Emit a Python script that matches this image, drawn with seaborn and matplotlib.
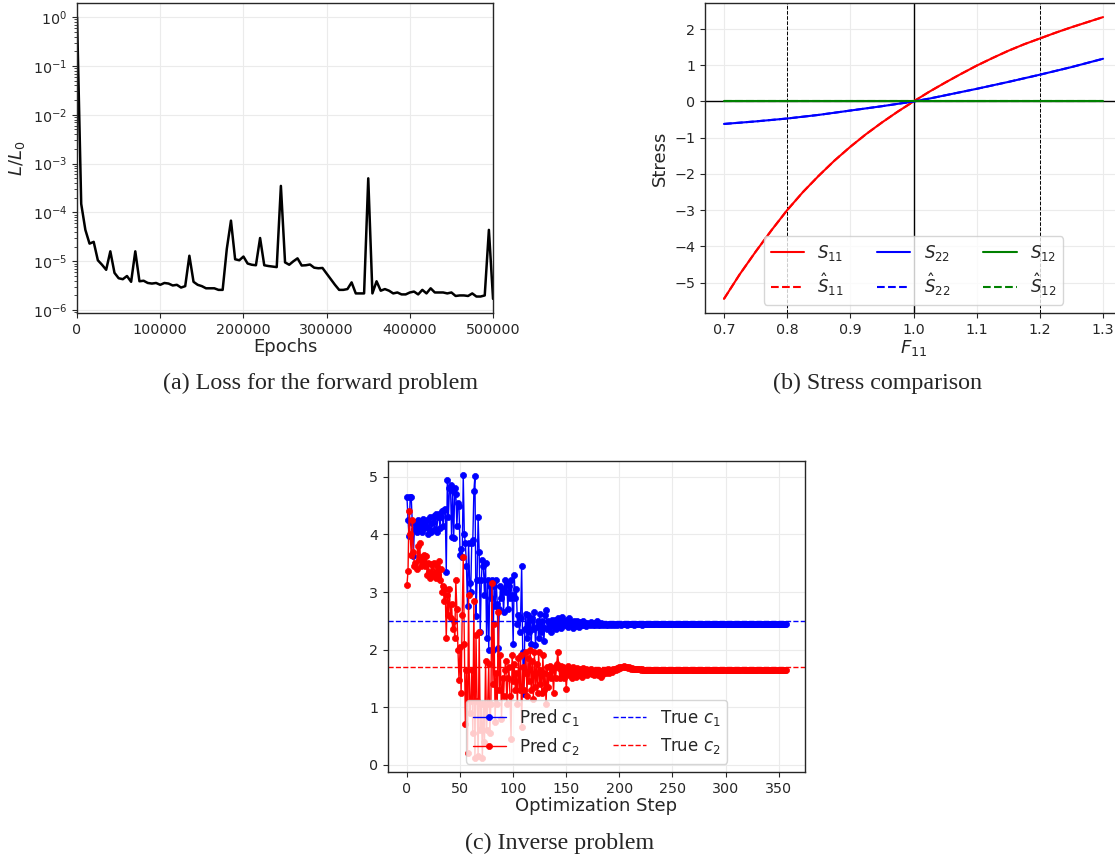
import numpy as np
import matplotlib
matplotlib.use("Agg")
import matplotlib.pyplot as plt
import seaborn as sns

# ---------------- data: (a) loss ----------------
epochs = list(range(0, 500001, 5000))
loss = [1.0, 1.5e-4, 4.4e-5, 2.3e-5, 2.5e-5, 1.05e-5, 8.5e-6, 6.7e-6, 1.6e-5, 5.8e-6,
        4.5e-6, 4.3e-6, 5.0e-6, 3.8e-6, 1.6e-5, 3.9e-6, 4.0e-6, 3.6e-6, 3.5e-6, 3.6e-6,
        3.3e-6, 3.6e-6, 3.5e-6, 3.2e-6, 3.3e-6, 2.9e-6, 3.1e-6, 1.3e-5, 3.8e-6, 3.3e-6,
        3.1e-6, 2.8e-6, 2.8e-6, 2.8e-6, 2.6e-6, 2.6e-6, 1.8e-5, 6.8e-5, 1.1e-5, 1.05e-5,
        1.25e-5, 9.0e-6, 8.5e-6, 8.3e-6, 3.0e-5, 8.3e-6, 8.0e-6, 7.8e-6, 7.6e-6, 3.5e-4,
        9.5e-6, 8.5e-6, 1.0e-5, 1.15e-5, 8.2e-6, 8.3e-6, 8.6e-6, 7.4e-6, 7.2e-6, 7.3e-6,
        5.6e-6, 4.3e-6, 3.3e-6, 2.6e-6, 2.6e-6, 2.7e-6, 3.7e-6, 2.2e-6, 2.2e-6, 2.2e-6,
        5.0e-4, 2.2e-6, 3.9e-6, 2.5e-6, 2.7e-6, 2.5e-6, 2.2e-6, 2.3e-6, 2.1e-6, 2.1e-6,
        2.3e-6, 2.4e-6, 2.1e-6, 2.6e-6, 2.2e-6, 2.8e-6, 2.3e-6, 2.3e-6, 2.3e-6, 2.2e-6,
        2.3e-6, 1.95e-6, 2.0e-6, 2.0e-6, 1.95e-6, 2.2e-6, 1.9e-6, 1.9e-6, 2.0e-6, 4.4e-5,
        1.7e-6]

# ---------------- data: (b) stress ----------------
F11 = [0.700, 0.725, 0.750, 0.775, 0.800, 0.825, 0.850, 0.875, 0.900, 0.925, 0.950, 0.975,
       1.000, 1.025, 1.050, 1.075, 1.100, 1.125, 1.150, 1.175, 1.200, 1.225, 1.250, 1.275, 1.300]
S11 = [-5.45, -4.77, -4.15, -3.56, -3.00, -2.50, -2.05, -1.63, -1.25, -0.90, -0.58, -0.28,
       0.00, 0.27, 0.52, 0.76, 0.99, 1.20, 1.40, 1.58, 1.74, 1.90, 2.05, 2.19, 2.33]
S22 = [-0.62, -0.585, -0.55, -0.51, -0.47, -0.42, -0.37, -0.31, -0.25, -0.19, -0.13, -0.065,
       0.00, 0.08, 0.17, 0.26, 0.35, 0.445, 0.54, 0.64, 0.74, 0.845, 0.95, 1.065, 1.18]
S12 = [0.00, 0.00, 0.00, 0.00, 0.00, 0.00, 0.00, 0.00, 0.00, 0.00, 0.00, 0.00,
       0.00, 0.00, 0.00, 0.00, 0.00, 0.00, 0.00, 0.00, 0.00, 0.00, 0.00, 0.00, 0.00]
S11_hat = list(S11)
S22_hat = list(S22)
S12_hat = list(S12)
F_ref_lines = [0.8, 1.2]

# ---------------- data: (c) inverse problem ----------------
c1_pred = [
    4.65, 4.25, 3.98, 4.65, 4.65, 4.20, 3.62, 4.10, 4.22, 4.05,
    4.25, 4.15, 4.10, 4.22, 4.05, 4.27, 4.12, 4.20, 4.15, 4.25,
    4.00, 4.10, 4.30, 4.05, 4.20, 4.32, 4.10, 4.35, 4.05, 4.30,
    4.36, 4.12, 4.30, 4.40, 4.15, 4.42, 4.45, 3.35, 4.94, 4.30,
    4.80, 4.85, 3.95, 4.75, 3.93, 4.80, 4.70, 4.15, 4.55, 4.50,
    3.65, 3.75, 3.60, 5.03, 4.00, 3.85, 3.45, 2.75, 3.85, 3.15,
    3.00, 3.85, 3.90, 4.75, 5.02, 2.58, 3.20, 4.30, 3.70, 2.30,
    3.20, 3.55, 3.45, 2.95, 3.50, 2.20, 3.20, 2.00, 3.10, 2.90,
    3.20, 2.00, 3.10, 2.75, 3.20, 2.80, 2.02, 2.70, 3.10, 2.90,
    3.05, 2.65, 3.20, 3.00, 3.15, 2.70, 3.10, 2.90, 3.20, 2.95,
    2.10, 3.29, 2.90, 3.05, 2.45, 2.60, 2.30, 2.55, 3.45, 1.95,
    1.22, 2.35, 2.62, 2.20, 2.60, 2.30, 2.52, 2.10, 2.55, 2.35,
    2.65, 2.08, 2.40, 2.50, 2.20, 2.62, 2.30, 2.50, 2.40, 2.15,
    2.60, 2.68, 2.35, 2.50, 2.40, 2.46, 2.30, 2.52, 2.40, 2.52,
    2.36, 2.46, 2.55, 2.40, 2.50, 2.38, 2.56, 2.42, 2.47, 2.50,
    2.42, 2.52, 2.40, 2.55, 2.43, 2.48, 2.38, 2.50, 2.45, 2.41,
    2.50, 2.44, 2.40, 2.48, 2.45, 2.42, 2.50, 2.43, 2.46, 2.41,
    2.47, 2.44, 2.42, 2.48, 2.44, 2.43, 2.47, 2.42, 2.46, 2.49,
    2.43, 2.45, 2.42, 2.46, 2.44, 2.42, 2.45, 2.43, 2.44, 2.42,
    2.45, 2.44, 2.43, 2.45, 2.44, 2.43, 2.45, 2.44, 2.43, 2.44,
    2.45, 2.44, 2.43, 2.44, 2.45, 2.44, 2.44, 2.43, 2.44, 2.45,
    2.44, 2.44, 2.45, 2.44, 2.43, 2.44, 2.44, 2.45, 2.44, 2.44,
    2.44, 2.43, 2.44, 2.44, 2.45, 2.44, 2.44, 2.44, 2.44, 2.44,
    2.44, 2.44, 2.44, 2.45, 2.44, 2.44, 2.44, 2.44, 2.44, 2.44,
    2.44, 2.44, 2.44, 2.44, 2.44, 2.44, 2.44, 2.44, 2.44, 2.44,
    2.44, 2.44, 2.44, 2.44, 2.44, 2.44, 2.44, 2.44, 2.44, 2.44,
    2.44, 2.44, 2.44, 2.44, 2.44, 2.44, 2.44, 2.44, 2.44, 2.44,
    2.44, 2.44, 2.44, 2.44, 2.44, 2.44, 2.44, 2.44, 2.44, 2.44,
    2.44, 2.44, 2.44, 2.44, 2.44, 2.44, 2.44, 2.44, 2.44, 2.44,
    2.44, 2.44, 2.44, 2.44, 2.44, 2.44, 2.44, 2.44, 2.44, 2.44,
    2.44, 2.44, 2.44, 2.44, 2.44, 2.44, 2.44, 2.44, 2.44, 2.44,
    2.44, 2.44, 2.44, 2.44, 2.44, 2.44, 2.44, 2.44, 2.44, 2.44,
    2.44, 2.44, 2.44, 2.44, 2.44, 2.44, 2.44, 2.44, 2.44, 2.44,
    2.44, 2.44, 2.44, 2.44, 2.44, 2.44, 2.44, 2.44, 2.44, 2.44,
    2.44, 2.44, 2.44, 2.44, 2.44, 2.44, 2.44, 2.44, 2.44, 2.44,
    2.44, 2.44, 2.44, 2.44, 2.44, 2.44, 2.44, 2.44]
c2_pred = [
    3.13, 3.37, 4.40, 4.00, 3.65, 4.25, 3.70, 3.45, 3.50, 3.40,
    3.80, 3.55, 3.85, 3.45, 3.60, 3.50, 3.65, 3.45, 3.62, 3.30,
    3.50, 3.35, 3.25, 3.48, 3.30, 3.50, 3.35, 3.25, 3.45, 3.30,
    3.53, 3.20, 3.40, 3.00, 3.10, 2.85, 3.05, 2.20, 2.95, 2.60,
    3.05, 2.55, 2.80, 2.35, 2.50, 2.20, 3.20, 2.70, 2.00, 1.47,
    2.05, 1.25, 2.60, 3.60, 2.10, 0.70, 1.65, 0.20, 2.95, 0.90,
    1.10, 1.65, 0.55, 2.85, 0.12, 2.25, 1.10, 0.15, 2.30, 0.60,
    1.05, 0.12, 1.05, 0.40, 1.80, 0.60, 1.05, 1.75, 0.55, 1.05,
    3.15, 1.40, 2.45, 0.75, 1.60, 1.05, 2.65, 1.30, 1.90, 0.80,
    1.50, 1.20, 1.65, 1.80, 1.05, 1.50, 1.70, 1.20, 0.45, 1.90,
    1.45, 1.75, 1.30, 1.60, 1.05, 1.85, 1.30, 1.90, 0.65, 1.70,
    1.30, 1.60, 1.95, 1.20, 1.85, 1.45, 2.00, 1.30, 1.80, 1.15,
    1.95, 1.35, 1.75, 1.25, 1.95, 1.40, 1.65, 1.25, 1.90, 1.30,
    1.60, 1.05, 1.70, 1.35, 1.55, 1.72, 1.50, 1.65, 1.25, 1.70,
    1.50, 1.75, 1.95, 1.68, 1.50, 1.72, 1.55, 1.70, 1.50, 1.65,
    1.32, 1.60, 1.72, 1.55, 1.66, 1.50, 1.70, 1.58, 1.64, 1.52,
    1.68, 1.60, 1.55, 1.66, 1.62, 1.52, 1.68, 1.60, 1.58, 1.66,
    1.56, 1.64, 1.60, 1.67, 1.58, 1.63, 1.55, 1.65, 1.60, 1.62,
    1.55, 1.64, 1.60, 1.52, 1.62, 1.58, 1.64, 1.60, 1.62, 1.66,
    1.60, 1.63, 1.65, 1.61, 1.66, 1.64, 1.67, 1.65, 1.68, 1.66,
    1.69, 1.68, 1.70, 1.69, 1.71, 1.70, 1.69, 1.70, 1.68, 1.69,
    1.68, 1.67, 1.68, 1.67, 1.66, 1.67, 1.66, 1.66, 1.67, 1.66,
    1.65, 1.66, 1.65, 1.64, 1.65, 1.65, 1.65, 1.65, 1.65, 1.65,
    1.65, 1.65, 1.65, 1.65, 1.65, 1.65, 1.65, 1.65, 1.65, 1.65,
    1.65, 1.65, 1.65, 1.65, 1.65, 1.65, 1.65, 1.65, 1.65, 1.65,
    1.65, 1.65, 1.65, 1.65, 1.65, 1.65, 1.65, 1.65, 1.65, 1.65,
    1.65, 1.65, 1.65, 1.65, 1.65, 1.65, 1.65, 1.65, 1.65, 1.65,
    1.65, 1.65, 1.65, 1.65, 1.65, 1.65, 1.65, 1.65, 1.65, 1.65,
    1.65, 1.65, 1.65, 1.65, 1.65, 1.65, 1.65, 1.65, 1.65, 1.65,
    1.65, 1.65, 1.65, 1.65, 1.65, 1.65, 1.65, 1.65, 1.65, 1.65,
    1.65, 1.65, 1.65, 1.65, 1.65, 1.65, 1.65, 1.65, 1.65, 1.65,
    1.65, 1.65, 1.65, 1.65, 1.65, 1.65, 1.65, 1.65, 1.65, 1.65,
    1.65, 1.65, 1.65, 1.65, 1.65, 1.65, 1.65, 1.65, 1.65, 1.65,
    1.65, 1.65, 1.65, 1.65, 1.65, 1.65, 1.65, 1.65, 1.65, 1.65,
    1.65, 1.65, 1.65, 1.65, 1.65, 1.65, 1.65, 1.65, 1.65, 1.65,
    1.65, 1.65, 1.65, 1.65, 1.65, 1.65, 1.65, 1.65]
c1_true = 2.5
c2_true = 1.7

captions = ["(a) Loss for the forward problem", "(b) Stress comparison", "(c) Inverse problem"]

# ---------------- style ----------------
sns.set_style("whitegrid", {
    "axes.edgecolor": "0.15",
    "grid.color": "0.92",
    "xtick.bottom": True,
    "ytick.left": True,
    "xtick.color": "0.15",
    "ytick.color": "0.15",
})
plt.rcParams["font.family"] = ["DejaVu Sans"]
plt.rcParams["axes.linewidth"] = 1.0
plt.rcParams["xtick.major.size"] = 3.5
plt.rcParams["ytick.major.size"] = 3.5
plt.rcParams["ytick.minor.size"] = 2.0

TICK = 10.3
LAB = 13
LEG = 12

fig = plt.figure(figsize=(11.15, 8.61), dpi=100)
ax_a = fig.add_axes([0.0691, 0.6365, 0.3731, 0.36])
ax_b = fig.add_axes([0.6323, 0.6365, 0.374, 0.36])
ax_c = fig.add_axes([0.348, 0.1034, 0.374, 0.3612])

# (a)
sns.lineplot(x=epochs, y=loss, ax=ax_a, color="black", linewidth=1.8)
ax_a.set_yscale("log")
ax_a.set_xlim(0, 500000)
ax_a.set_xlabel("Epochs", fontsize=LAB, labelpad=1)
ax_a.set_ylabel(r"$L/L_0$", fontsize=LAB)
ax_a.tick_params(labelsize=TICK)
ax_a.tick_params(axis="y", which="minor", left=True, length=2, color="0.15")

# (b)
ax_b.axvline(F_ref_lines[0], color="black", linestyle="--", linewidth=0.7)
ax_b.axvline(F_ref_lines[1], color="black", linestyle="--", linewidth=0.7)
ax_b.axvline(1.0, color="black", linewidth=1.0)
ax_b.axhline(0.0, color="black", linewidth=1.0)
sns.lineplot(x=F11, y=S11, ax=ax_b, color="red", linewidth=1.5, label=r"$S_{11}$", legend=False)
sns.lineplot(x=F11, y=S11_hat, ax=ax_b, color="red", linewidth=1.5, linestyle="--", label=r"$\hat{S}_{11}$", legend=False)
sns.lineplot(x=F11, y=S22, ax=ax_b, color="blue", linewidth=1.5, label=r"$S_{22}$", legend=False)
sns.lineplot(x=F11, y=S22_hat, ax=ax_b, color="blue", linewidth=1.5, linestyle="--", label=r"$\hat{S}_{22}$", legend=False)
sns.lineplot(x=F11, y=S12, ax=ax_b, color="green", linewidth=1.5, label=r"$S_{12}$", legend=False)
sns.lineplot(x=F11, y=S12_hat, ax=ax_b, color="green", linewidth=1.5, linestyle="--", label=r"$\hat{S}_{12}$", legend=False)
ax_b.set_xlabel(r"$F_{11}$", fontsize=LAB, labelpad=1)
ax_b.set_ylabel("Stress", fontsize=LAB)
ax_b.tick_params(labelsize=TICK)
ax_b.set_xticks([0.7, 0.8, 0.9, 1.0, 1.1, 1.2, 1.3])
ax_b.legend(loc="lower center", ncol=3, fontsize=LEG)

# (c)
steps1 = list(range(len(c1_pred)))
steps2 = list(range(len(c2_pred)))
sns.lineplot(x=steps1, y=c1_pred, ax=ax_c, color="blue", linewidth=1.0, marker="o",
             markersize=4.4, markeredgecolor="blue", markeredgewidth=0.5, label=r"Pred $c_1$", legend=False)
sns.lineplot(x=steps2, y=c2_pred, ax=ax_c, color="red", linewidth=1.0, marker="o",
             markersize=4.4, markeredgecolor="red", markeredgewidth=0.5, label=r"Pred $c_2$", legend=False)
ax_c.axhline(c1_true, color="blue", linestyle="--", linewidth=1.0, label=r"True $c_1$")
ax_c.axhline(c2_true, color="red", linestyle="--", linewidth=1.0, label=r"True $c_2$")
ax_c.set_xlabel("Optimization Step", fontsize=LAB, labelpad=1)
ax_c.tick_params(labelsize=TICK)
ax_c.set_xticks([0, 50, 100, 150, 200, 250, 300, 350])
ax_c.legend(loc="lower center", ncol=2, fontsize=LEG)

# captions
fig.text(0.287, 0.555, captions[0], ha="center", va="center", fontsize=17.3, family="Liberation Serif")
fig.text(0.7874, 0.555, captions[1], ha="center", va="center", fontsize=17.3, family="Liberation Serif")
fig.text(0.502, 0.021, captions[2], ha="center", va="center", fontsize=17.3, family="Liberation Serif")

fig.savefig("out.png", dpi=100)
